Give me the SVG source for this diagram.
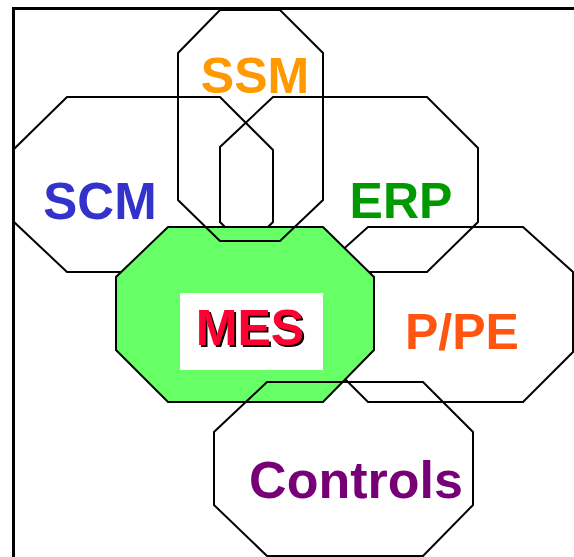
<svg xmlns="http://www.w3.org/2000/svg" width="574" height="557" viewBox="0 0 574 557">
  <style>
    .oct { fill: none; stroke: #000; stroke-width: 2; stroke-linejoin: miter; }
    .oct-core { fill: #66FF66; stroke: #000; stroke-width: 2; }
    .label { font-family: "Liberation Sans", Arial, sans-serif; font-weight: bold; font-size: 50px; text-anchor: middle; }
  </style>
  <defs>
    <!-- hard black drop shadow for the core label -->
    <filter id="hard-shadow" x="-10%" y="-10%" width="130%" height="130%">
      <feFlood flood-color="#000" result="ink"/>
      <feComposite in="ink" in2="SourceAlpha" operator="in" result="mask"/>
      <feOffset in="mask" dx="2" dy="2" result="shadow"/>
      <feMerge>
        <feMergeNode in="shadow"/>
        <feMergeNode in="SourceGraphic"/>
      </feMerge>
    </filter>
  </defs>
  <rect width="574" height="557" fill="#fff"/>
  <!-- page frame, open towards right and bottom -->
  <path d="M13.5 557 V8.5 H574" fill="none" stroke="#000" stroke-width="3"/>

  <!-- domains behind the core -->
  <g id="scm">
    <polygon class="oct" points="67,97 220,97 273,150 273,222 223,272 67,272 14,222 14,149"/>
    <text class="label" x="100" y="219" fill="#3333CC" style="font-size:51px">SCM</text>
  </g>
  <g id="erp">
    <polygon class="oct" points="273,97 427,97 478,148 478,222 427,272 270,272 220,222 220,147"/>
    <text class="label" x="401" y="218" fill="#009900">ERP</text>
  </g>
  <g id="ppe">
    <polygon class="oct" points="368,227 523,227 573,272 573,352 523,402 368,402 318,352 318,272"/>
    <text class="label" x="462" y="349" fill="#FF5511">P/PE</text>
  </g>

  <!-- core -->
  <g id="mes">
    <polygon class="oct-core" points="168,227 323,227 374,277 374,350 323,402 168,402 116,350 116,277"/>
    <rect x="180" y="293" width="143" height="77" fill="#fff"/>
    <text class="label" x="250" y="345" fill="#FF0033" filter="url(#hard-shadow)">MES</text>
  </g>

  <!-- domains in front of the core -->
  <g id="ssm">
    <polygon class="oct" points="220,10 280,10 323,53 323,200 280,241 220,241 178,200 178,53"/>
    <text class="label" x="255" y="93" fill="#FF9900">SSM</text>
  </g>
  <g id="controls">
    <polygon class="oct" points="267,382 423,382 473,432 473,505 423,556 267,556 214,505 214,432"/>
    <text class="label" x="356" y="498" fill="#770077" style="font-size:52px">Controls</text>
  </g>

  <g id="connectors"/>
</svg>
